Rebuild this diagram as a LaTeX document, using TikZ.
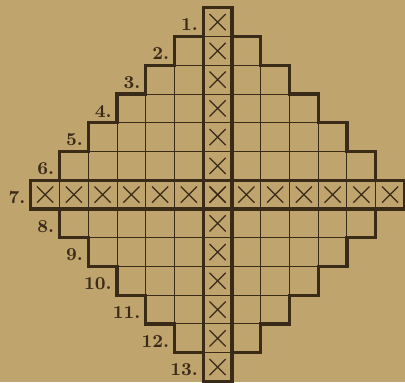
\documentclass[tikz,border=0pt]{standalone}
\usepackage{tikz}
\definecolor{paper}{RGB}{192,164,110}
\definecolor{ink}{RGB}{58,42,24}

\begin{document}
\begin{tikzpicture}[x=0.5cm, y=0.5cm,
  thinrule/.style={ink, line width=0.45pt},
  thickrule/.style={ink, line width=1.6pt, line cap=rect},
  xrule/.style={ink, line width=0.6pt},
  rowlab/.style={anchor=east, font=\small\bfseries, text=ink, inner sep=1pt}
]
  \fill[paper] (-7.57,-6.52) rectangle (6.52,6.77);
  \useasboundingbox (-7.57,-6.52) rectangle (6.52,6.77);

  % the thirteen rows of the diamond
  \foreach \i in {1,...,13} {
    \pgfmathtruncatemacro\n{6-abs(\i-7)}
    \pgfmathsetmacro\y{7-\i}
    \pgfmathsetmacro\l{-\n-0.5}
    \pgfmathsetmacro\r{\n+0.5}
    \draw[thinrule] (\l,\y+0.5) -- (\r,\y+0.5) (\l,\y-0.5) -- (\r,\y-0.5);
    \ifnum\n>0
      \foreach \k in {1,...,\n} {
        \draw[thinrule] (\k-0.5,\y-0.5) -- (\k-0.5,\y+0.5)
                        (-\k+0.5,\y-0.5) -- (-\k+0.5,\y+0.5);
      }
    \fi
    \draw[thickrule] (\l,\y-0.5) -- (\l,\y+0.5) (\r,\y-0.5) -- (\r,\y+0.5);
    \ifnum\i<7
      \draw[thickrule] (\l,\y+0.5) -- (\l+1,\y+0.5) (\r-1,\y+0.5) -- (\r,\y+0.5);
    \fi
    \ifnum\i>7
      \draw[thickrule] (\l,\y-0.5) -- (\l+1,\y-0.5) (\r-1,\y-0.5) -- (\r,\y-0.5);
    \fi
    \node[rowlab] (lab\i) at (\l-0.1,\y-0.1) {\i.};
  }

  % crosses in the middle row and the middle column
  \foreach \c in {-6,...,6} {
    \draw[xrule] (\c-0.28,-0.28) -- (\c+0.28,0.28) (\c-0.28,0.28) -- (\c+0.28,-0.28);
    \draw[xrule] (-0.28,\c-0.28) -- (0.28,\c+0.28) (-0.28,\c+0.28) -- (0.28,\c-0.28);
  }

  % boxed row and column
  \draw[thickrule] (-6.5,-0.5) rectangle (6.5,0.5);
  \draw[thickrule] (-0.5,-6.5) rectangle (0.5,6.5);
\end{tikzpicture}
\end{document}
